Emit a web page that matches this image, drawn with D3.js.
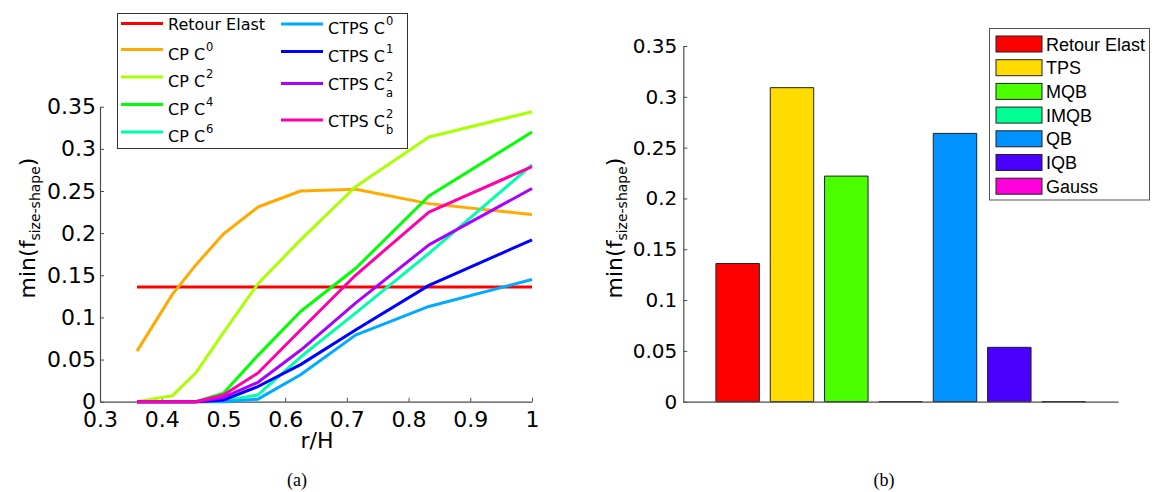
<!DOCTYPE html>
<html><head><meta charset="utf-8">
<script src="https://cdn.jsdelivr.net/npm/d3@7"></script>
<style>body{margin:0;background:#fff} svg{display:block}</style>
</head><body><svg id="c" width="1155" height="492"></svg>
<script>
// ---------- data: left panel (a) ----------
const rH = [0.36, 0.417, 0.455, 0.5, 0.556, 0.625, 0.714, 0.833, 1.0];
const retourElast = [0.136, 0.136, 0.136, 0.136, 0.136, 0.136, 0.136, 0.136, 0.136];
const cpC0  = [0.060, 0.127, 0.162, 0.199, 0.231, 0.250, 0.252, 0.235, 0.222];
const cpC2  = [0, 0.007, 0.034, 0.082, 0.140, 0.192, 0.255, 0.314, 0.344];
const cpC4  = [0, 0, 0, 0.010, 0.055, 0.107, 0.158, 0.244, 0.320];
const cpC6  = [0, 0, 0, 0.001, 0.008, 0.053, 0.105, 0.176, 0.281];
const ctpsC0  = [0, 0, 0, 0, 0.003, 0.032, 0.079, 0.113, 0.145];
const ctpsC1  = [0, 0, 0, 0.002, 0.018, 0.044, 0.085, 0.138, 0.192];
const ctpsC2a = [0, 0, 0, 0.005, 0.023, 0.061, 0.117, 0.186, 0.253];
const ctpsC2b = [0, 0, 0, 0.008, 0.034, 0.085, 0.150, 0.225, 0.279];
const leftXTicks = [0.3, 0.4, 0.5, 0.6, 0.7, 0.8, 0.9, 1];
const leftXTickLabels = ["0.3", "0.4", "0.5", "0.6", "0.7", "0.8", "0.9", "1"];
const yTicks = [0, 0.05, 0.1, 0.15, 0.2, 0.25, 0.3, 0.35];
const yTickLabels = ["0", "0.05", "0.1", "0.15", "0.2", "0.25", "0.3", "0.35"];

// ---------- data: right panel (b) ----------
const barCategories = ["Retour Elast", "TPS", "MQB", "IMQB", "QB", "IQB", "Gauss"];
const barValues = [0.136, 0.309, 0.222, 0, 0.264, 0.0535, 0];

// ---------- styles ----------
const lineColors = ["#ff0000", "#ffaa00", "#aaff00", "#00ff00", "#00ffaa", "#00aaff", "#0000ff", "#aa00ff", "#ff00aa"];
const barColors = ["#ff0000", "#ffdb00", "#49ff00", "#00ff92", "#0092ff", "#4900ff", "#ff00db"];

const series = [
  {values: retourElast, base: "Retour Elast"},
  {values: cpC0, base: "CP C", sup: "0"},
  {values: cpC2, base: "CP C", sup: "2"},
  {values: cpC4, base: "CP C", sup: "4"},
  {values: cpC6, base: "CP C", sup: "6"},
  {values: ctpsC0, base: "CTPS C", sup: "0"},
  {values: ctpsC1, base: "CTPS C", sup: "1"},
  {values: ctpsC2a, base: "CTPS C", sup: "2", sub: "a"},
  {values: ctpsC2b, base: "CTPS C", sup: "2", sub: "b"}
];

const svg = d3.select("#c");
const FONT = "DejaVu Sans, sans-serif";
const AX = "#4d4d4d";

function styleAxis(g, size) {
  g.attr("font-family", FONT).attr("font-size", size);
  g.selectAll(".domain").attr("stroke", AX).attr("stroke-width", 1.2);
  g.selectAll(".tick line").attr("stroke", AX);
  g.selectAll(".tick text").attr("fill", "#000");
}

// ================= Panel (a) =================
const xL = d3.scaleLinear([0.3, 1], [100, 532]);
const yL = d3.scaleLinear([0, 0.35], [401.7, 106.7]);

const gLx = svg.append("g").attr("transform", `translate(0,${yL(0)})`)
  .call(d3.axisBottom(xL).tickValues(leftXTicks)
    .tickFormat((d, i) => leftXTickLabels[i])
    .tickSizeInner(-4).tickSizeOuter(0).tickPadding(10));
styleAxis(gLx, 22);

const gLy = svg.append("g").attr("transform", `translate(${xL(0.3)},0)`)
  .call(d3.axisLeft(yL).tickValues(yTicks)
    .tickFormat((d, i) => yTickLabels[i])
    .tickSizeInner(-4).tickSizeOuter(0).tickPadding(4));
styleAxis(gLy, 22);

const line = d3.line().x((d, i) => xL(rH[i])).y(d => yL(d));
series.forEach((s, k) => {
  svg.append("path").attr("d", line(s.values))
    .attr("fill", "none").attr("stroke", lineColors[k])
    .attr("stroke-width", 3).attr("stroke-linejoin", "round");
});

// axis labels
svg.append("text").attr("x", 317).attr("y", 448).attr("text-anchor", "middle")
  .attr("font-family", FONT).attr("font-size", 22).text("r/H");

function yLabel(x, y) {
  const t = svg.append("text").attr("transform", `translate(${x},${y}) rotate(-90)`)
    .attr("text-anchor", "middle").attr("font-family", FONT).attr("font-size", 22);
  t.append("tspan").text("min(f");
  t.append("tspan").attr("font-size", 14).attr("dy", 5).text("size-shape");
  t.append("tspan").attr("dy", -5).text(")");
}
yLabel(35, 228);

// legend (a)
svg.append("rect").attr("x", 117.5).attr("y", 13.5).attr("width", 290).attr("height", 135)
  .attr("fill", "#fff").attr("stroke", "#333").attr("stroke-width", 1);
const legPos = [
  [121, 23.5], [121, 49.5], [121, 77], [121, 104.5], [121, 132],
  [281, 24], [281, 51.5], [281, 83.5], [281, 120]
];
series.forEach((s, k) => {
  const [lx, ly] = legPos[k];
  svg.append("line").attr("x1", lx).attr("x2", lx + 42).attr("y1", ly).attr("y2", ly)
    .attr("stroke", lineColors[k]).attr("stroke-width", 3);
  const off = s.sub ? 6.7 : (s.sup ? 10 : 6.5);
  const bx = lx + 47, by = ly + off;
  const t = svg.append("text").attr("x", bx).attr("y", by)
    .attr("font-family", FONT).attr("font-size", 16).text(s.base);
  if (s.sup) {
    const w = t.node().getComputedTextLength();
    svg.append("text").attr("x", bx + w + 1).attr("y", by - 9)
      .attr("font-family", FONT).attr("font-size", 11.5).text(s.sup);
    if (s.sub) {
      svg.append("text").attr("x", bx + w + 1).attr("y", by + 7)
        .attr("font-family", FONT).attr("font-size", 11.5).text(s.sub);
    }
  }
});

// ================= Panel (b) =================
const xR = d3.scaleLinear([0, 8], [683.3, 1118]);
const yR = d3.scaleLinear([0, 0.35], [401.7, 46]);

barValues.forEach((v, i) => {
  const x0 = xR(i + 1 - 0.4), x1 = xR(i + 1 + 0.4);
  const y0 = yR(0), y1 = yR(v);
  svg.append("path").attr("d", `M${x0},${y0}V${y1}H${x1}V${y0}Z`)
    .attr("fill", barColors[i]).attr("stroke", "#222").attr("stroke-width", 1);
});

const gRx = svg.append("g").attr("transform", `translate(0,${yR(0)})`)
  .call(d3.axisBottom(xR).tickValues([]).tickSizeOuter(0));
styleAxis(gRx, 20);
const gRy = svg.append("g").attr("transform", `translate(${xR(0)},0)`)
  .call(d3.axisLeft(yR).tickValues(yTicks)
    .tickFormat((d, i) => yTickLabels[i])
    .tickSizeInner(-4).tickSizeOuter(0).tickPadding(6));
styleAxis(gRy, 20);

yLabel(622, 228);

// legend (b)
const LF = "Liberation Sans, Arial, sans-serif";
svg.append("rect").attr("x", 989.5).attr("y", 28.5).attr("width", 160).attr("height", 171.5)
  .attr("fill", "#fff").attr("stroke", "#555").attr("stroke-width", 1);
barCategories.forEach((c, i) => {
  const cy = 44 + i * 23.7;
  svg.append("rect").attr("x", 996).attr("y", cy - 8).attr("width", 46).attr("height", 16)
    .attr("fill", barColors[i]).attr("stroke", "#222").attr("stroke-width", 1);
  svg.append("text").attr("x", 1046).attr("y", cy + 6.5)
    .attr("font-family", LF).attr("font-size", 18).text(c);
});

// captions
svg.append("text").attr("x", 297).attr("y", 486).attr("text-anchor", "middle")
  .attr("font-family", "Liberation Serif, serif").attr("font-size", 18).text("(a)");
svg.append("text").attr("x", 884).attr("y", 486).attr("text-anchor", "middle")
  .attr("font-family", "Liberation Serif, serif").attr("font-size", 18).text("(b)");
</script></body></html>
